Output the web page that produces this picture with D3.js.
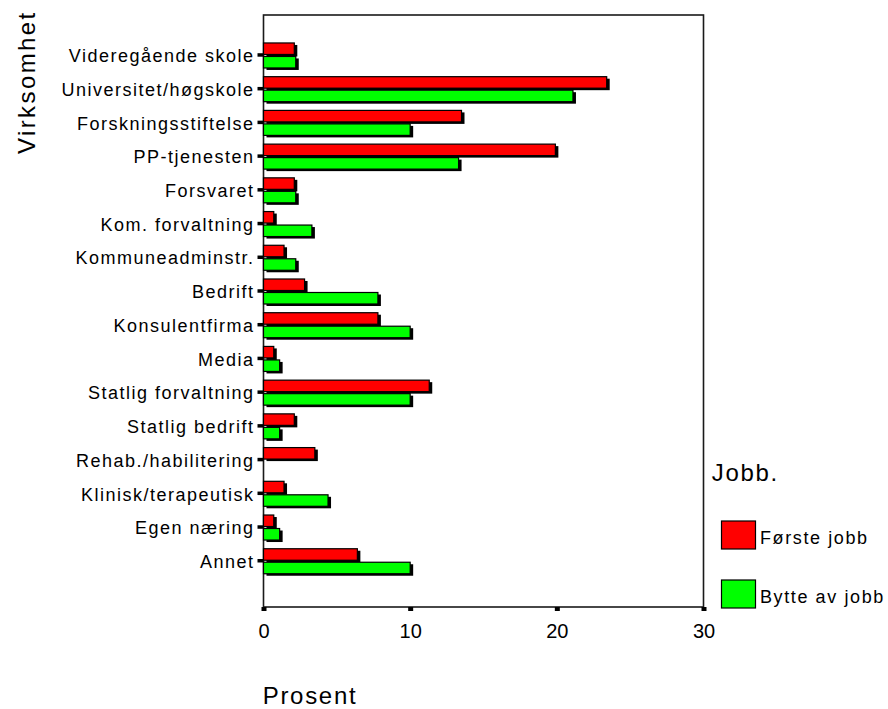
<!DOCTYPE html>
<html>
<head>
<meta charset="utf-8">
<script src="https://cdn.jsdelivr.net/npm/d3@7"></script>
<style>
html, body { margin: 0; padding: 0; background: #fff; }
svg { display: block; }
text { font-family: "Liberation Sans", Arial, sans-serif; fill: #000; }
</style>
</head>
<body>
<svg id="chart" width="888" height="709"></svg>
<script>
const categories = [
  "Videregående skole", "Universitet/høgskole", "Forskningsstiftelse", "PP-tjenesten",
  "Forsvaret", "Kom. forvaltning", "Kommuneadminstr.", "Bedrift", "Konsulentfirma",
  "Media", "Statlig forvaltning", "Statlig bedrift", "Rehab./habilitering",
  "Klinisk/terapeutisk", "Egen næring", "Annet"
];
const forsteJobb  = [2.1, 23.4, 13.5, 19.9, 2.1, 0.7, 1.4, 2.8, 7.8, 0.7, 11.3, 2.1, 3.5, 1.4, 0.7, 6.4];
const bytteAvJobb = [2.2, 21.1, 10.0, 13.3, 2.2, 3.3, 2.2, 7.8, 10.0, 1.1, 10.0, 1.1, 0.0, 4.4, 1.1, 10.0];
const seriesNames = ["Første jobb", "Bytte av jobb"];
const seriesColors = ["#ff0000", "#00ff00"];
const xTicks = [0, 10, 20, 30];
const xTitle = "Prosent";
const yTitle = "Virksomhet";
const legendTitle = "Jobb.";

const svg = d3.select("#chart");

const plot = { left: 263.5, right: 703.5, top: 15, bottom: 607 };
const x = d3.scaleLinear().domain([0, 30]).range([plot.left, plot.right]);
const y = d3.scaleBand().domain(categories).range([38.1, 577.6]).padding(0);
const center = c => y(c) + y.bandwidth() / 2;

const barH = 11.5;
const series = [forsteJobb, bytteAvJobb];
const offsets = [-12, 1.5];

// frame
svg.append("rect")
  .attr("x", plot.left).attr("y", plot.top)
  .attr("width", plot.right - plot.left).attr("height", plot.bottom - plot.top)
  .attr("fill", "none").attr("stroke", "#1a1a1a").attr("stroke-width", 1.6);

// bars with shadows
series.forEach((vals, s) => {
  const data = categories.map((c, i) => ({ c, v: vals[i] })).filter(d => d.v > 0);
  const g = svg.append("g");
  g.selectAll("rect.shadow").data(data).enter().append("rect")
    .attr("class", "shadow")
    .attr("x", x(0) + 3)
    .attr("y", d => center(d.c) + offsets[s] + 2)
    .attr("width", d => x(d.v) - x(0))
    .attr("height", barH)
    .attr("fill", "#000");
  g.selectAll("rect.bar").data(data).enter().append("rect")
    .attr("class", "bar")
    .attr("x", x(0))
    .attr("y", d => center(d.c) + offsets[s])
    .attr("width", d => x(d.v) - x(0))
    .attr("height", barH)
    .attr("fill", seriesColors[s])
    .attr("stroke", "#000").attr("stroke-width", 1.2);
});

// y axis
const yAxis = d3.axisLeft(y).tickSize(6).tickPadding(4);
const yg = svg.append("g").attr("transform", `translate(${plot.left},0)`).call(yAxis);
yg.select(".domain").remove();
yg.selectAll(".tick line").attr("stroke", "#000").attr("stroke-width", 3.5);
yg.selectAll(".tick text")
  .attr("font-size", 18).attr("letter-spacing", "1.5px")
  .attr("x", -9).attr("dy", "0.4em")
  .style("font-family", "'Liberation Sans', Arial, sans-serif");

// x axis
const xAxis = d3.axisBottom(x).tickValues(xTicks).tickSize(4).tickPadding(8);
const xg = svg.append("g").attr("transform", `translate(0,${plot.bottom})`).call(xAxis);
xg.select(".domain").remove();
xg.selectAll(".tick line").attr("stroke", "#000").attr("stroke-width", 5);
xg.selectAll(".tick text")
  .attr("font-size", 20).attr("dy", "0.95em")
  .style("font-family", "'Liberation Sans', Arial, sans-serif");

// axis titles
svg.append("text")
  .attr("x", 262.7).attr("y", 704)
  .attr("font-size", 24).attr("letter-spacing", "1.7px")
  .text(xTitle);
svg.append("text")
  .attr("transform", "translate(35,154) rotate(-90)")
  .attr("font-size", 24).attr("letter-spacing", "2.4px")
  .text(yTitle);

// legend
svg.append("text")
  .attr("x", 711.7).attr("y", 480.7)
  .attr("font-size", 24).attr("letter-spacing", "1.7px")
  .text(legendTitle);
const legY = [521, 580];
seriesNames.forEach((n, i) => {
  svg.append("rect")
    .attr("x", 721.5).attr("y", legY[i])
    .attr("width", 34).attr("height", 28)
    .attr("fill", seriesColors[i]).attr("stroke", "#000").attr("stroke-width", 1.2);
  svg.append("text")
    .attr("x", 760).attr("y", legY[i] + 23)
    .attr("font-size", 18).attr("letter-spacing", "1.6px")
    .text(n);
});
</script>
</body>
</html>
